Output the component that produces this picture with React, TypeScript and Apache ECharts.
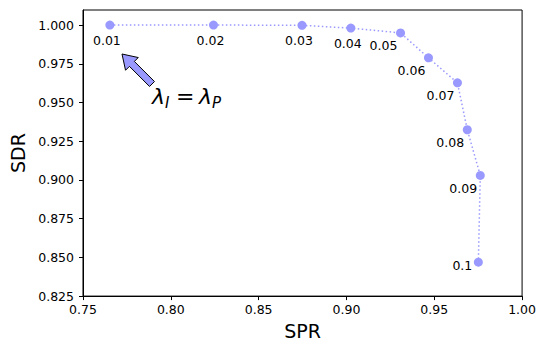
import React, { useEffect, useRef } from "react";
import * as echarts from "echarts";

const lambdas = ["0.01", "0.02", "0.03", "0.04", "0.05", "0.06", "0.07", "0.08", "0.09", "0.1"];
const spr = [0.7653, 0.8243, 0.8747, 0.9025, 0.9308, 0.9467, 0.9632, 0.9688, 0.9762, 0.9751];
const sdr = [1.0, 1.0, 0.9998, 0.998, 0.9949, 0.9788, 0.9627, 0.9324, 0.9029, 0.8469];
const labelOffsets: number[][] = [
  [-3, 15], [-3, 15], [-3, 15], [-3, 15], [-17, 13],
  [-17, 13], [-17, 13], [-17, 13], [-17, 13], [-16, 3],
];

const FONT = "DejaVu Sans";
const BLUE = "#9999ff";

export default function App() {
  const ref = useRef<HTMLDivElement>(null);
  useEffect(() => {
    if (!ref.current) return;
    const chart = echarts.init(ref.current, null, { renderer: "svg" });
    const s = Math.SQRT1_2;
    const T = [122, 54];
    const S = [152, 84];
    const h = 14, w = 3.5, H = 9;
    const B = [T[0] + h * s, T[1] + h * s];
    const n = [s, -s];
    const pts = [
      [S[0] + n[0] * w, S[1] + n[1] * w],
      [B[0] + n[0] * w, B[1] + n[1] * w],
      [B[0] + n[0] * H, B[1] + n[1] * H],
      T,
      [B[0] - n[0] * H, B[1] - n[1] * H],
      [B[0] - n[0] * w, B[1] - n[1] * w],
      [S[0] - n[0] * w, S[1] - n[1] * w],
    ];
    const mathStyle = (text: string, size: number) => ({
      text, fontSize: size, fontStyle: "italic", fontFamily: FONT, fill: "#000",
      textVerticalAlign: "middle", textAlign: "left",
    });
    chart.setOption({
      animation: false,
      grid: { left: 83, right: 15, top: 10, bottom: 48, show: true, borderColor: "#000", borderWidth: 1 },
      xAxis: {
        type: "value", min: 0.75, max: 1.0, interval: 0.05,
        name: "SPR", nameLocation: "middle", nameGap: 24,
        nameTextStyle: { fontSize: 19, fontFamily: FONT, color: "#000" },
        axisLine: { show: true, onZero: false, lineStyle: { color: "#000" } },
        axisTick: { show: true, length: 4, lineStyle: { color: "#000" } },
        axisLabel: { fontSize: 12.5, fontFamily: FONT, color: "#000", margin: 7, formatter: (v: number) => v.toFixed(2) },
        splitLine: { show: false },
      },
      yAxis: {
        type: "value", min: 0.825, max: 1.0097, interval: 0.025,
        name: "SDR", nameLocation: "middle", nameGap: 54,
        nameTextStyle: { fontSize: 19, fontFamily: FONT, color: "#000" },
        axisLine: { show: true, onZero: false, lineStyle: { color: "#000" } },
        axisTick: { show: true, length: 4, lineStyle: { color: "#000" } },
        axisLabel: { fontSize: 12.5, fontFamily: FONT, color: "#000", margin: 9, showMaxLabel: false, formatter: (v: number) => v.toFixed(3) },
        splitLine: { show: false },
      },
      series: [{
        type: "line",
        data: spr.map((x, i) => ({
          value: [x, sdr[i]],
          label: {
            show: true, formatter: lambdas[i], position: "inside", offset: labelOffsets[i],
            fontSize: 12.5, fontFamily: FONT, color: "#000",
          },
        })),
        symbol: "circle", symbolSize: 9,
        itemStyle: { color: BLUE },
        lineStyle: { color: BLUE, width: 1.5, type: [1.5, 2.5] },
        z: 3,
      }],
      graphic: [
        { type: "polygon", shape: { points: pts }, style: { fill: BLUE, stroke: "#000", lineWidth: 1 } },
        { type: "text", x: 152, y: 96, style: mathStyle("λ", 22) },
        { type: "text", x: 165, y: 103, style: mathStyle("I", 15) },
        { type: "text", x: 176, y: 96, style: { ...mathStyle("=", 22), fontStyle: "normal" } },
        { type: "text", x: 199, y: 96, style: mathStyle("λ", 22) },
        { type: "text", x: 212, y: 103, style: mathStyle("P", 15) },
      ],
    });
    return () => chart.dispose();
  }, []);
  return <div ref={ref} style={{ position: "absolute", left: 0, top: 0, width: 539, height: 345 }} />;
}
